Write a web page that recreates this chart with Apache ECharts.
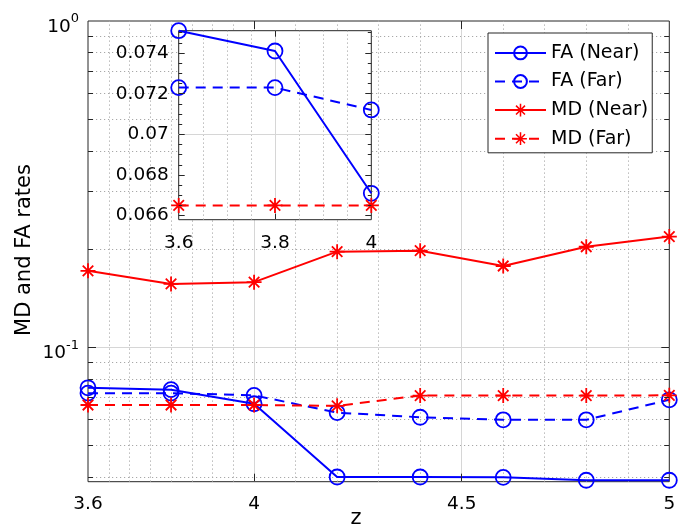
<!DOCTYPE html>
<html><head><meta charset="utf-8">
<script src="https://cdn.jsdelivr.net/npm/echarts@6/dist/echarts.min.js"></script>
<style>html,body{margin:0;padding:0;background:#fff}#c{width:686px;height:527px}</style>
</head><body><div id="c"></div>
<script>
// ---------- data ----------
const zValues = [3.6, 3.8, 4.0, 4.2, 4.4, 4.6, 4.8, 5.0];
const faNear  = [0.0751, 0.0741, 0.0671, 0.0400, 0.0400, 0.0399, 0.0391, 0.0391];
const faFar   = [0.0723, 0.0723, 0.0712, 0.0630, 0.0610, 0.0599, 0.0599, 0.0690];
const mdNear  = [0.1715, 0.1563, 0.1583, 0.1963, 0.1977, 0.1774, 0.2032, 0.2183];
const mdFar   = [0.0665, 0.0665, 0.0665, 0.0661, 0.0711, 0.0711, 0.0711, 0.0712];
const insetCount = 3;                       // z = 3.6, 3.8, 4 shown in the inset
const seriesNames = ['FA (Near)', 'FA (Far)', 'MD (Near)', 'MD (Far)'];
const xTickLabels = [3.6, 4, 4.5, 5];
const yDecadeLabels = [0.1, 1];
const insetXTicks = [3.6, 3.8, 4];
const insetYTicks = [0.066, 0.068, 0.07, 0.072, 0.074];
// grid positions
const mainMinorX = [3.65, 3.7, 3.75, 3.8, 3.85, 3.9, 3.95, 4.1, 4.2, 4.3, 4.4, 4.6, 4.7, 4.8, 4.9];
const mainMajorX = [4, 4.5];
const mainMinorY = [0.04, 0.05, 0.06, 0.07, 0.08, 0.09, 0.2, 0.3, 0.4, 0.5, 0.6, 0.7, 0.8, 0.9];
const mainMajorY = [0.1];
const insetMinorX = [3.65, 3.7, 3.75, 3.85, 3.9, 3.95];
const insetMajorX = [3.8];
const insetMinorY = [0.0665, 0.067, 0.0675, 0.0685, 0.069, 0.0695, 0.0705, 0.071, 0.0715, 0.0725, 0.073, 0.0735, 0.0745, 0.075];

// ---------- layout / style ----------
const FONT = 'DejaVu Sans';
const BLUE = '#0000ff', RED = '#ff0000', AX = '#262626';
const MAIN = {x0: 3.6, x1: 5, y0: 0.0387, y1: 1, left: 88, top: 21, right: 16.7, bottom: 45.3};
const INS  = {x0: 3.6, x1: 4, y0: 0.0658, y1: 0.0751, left: 178.7, top: 30.7, right: 314.7, bottom: 307.3};
const mainW = 686 - MAIN.left - MAIN.right, mainH = 527 - MAIN.top - MAIN.bottom;
const insW = 686 - INS.left - INS.right, insH = 527 - INS.top - INS.bottom;
const mainPxX = mainW / (MAIN.x1 - MAIN.x0);
const mainPxDec = mainH / (Math.log10(MAIN.y1) - Math.log10(MAIN.y0));
const insPxX = insW / (INS.x1 - INS.x0);
const insPxY = insH / (INS.y1 - INS.y0);

const dotted = {color: '#a8a8a8', width: 1, type: [1.2, 2.8]};
const solidGrid = {color: '#d6d6d6', width: 1, type: 'solid'};
const tickStyle = {color: AX, width: 1, type: 'solid'};

const STAR = 'path://M8.8 0L11.2 0L11.2 20L8.8 20Z M0 8.8L20 8.8L20 11.2L0 11.2Z M3.85 2.15L17.85 16.15L16.15 17.85L2.15 3.85Z M16.15 2.15L17.85 3.85L3.85 17.85L2.15 16.15Z';

function seg(a, b, style) { return [{coord: a, lineStyle: style}, {coord: b}]; }
function near(list, v, tol) { return list.some(t => Math.abs(t - v) < tol); }

// main grid lines
const mainGridLines = [];
mainMinorX.forEach(v => mainGridLines.push({xAxis: v, lineStyle: dotted}));
mainMinorY.forEach(v => mainGridLines.push({yAxis: v, lineStyle: dotted}));
mainMajorX.forEach(v => mainGridLines.push({xAxis: v, lineStyle: solidGrid}));
mainMajorY.forEach(v => mainGridLines.push({yAxis: v, lineStyle: solidGrid}));
// main ticks
const mainTicks = [];
function yTicksMain(vals, len) {
  const dx = len / mainPxX;
  vals.forEach(v => {
    mainTicks.push(seg([MAIN.x0, v], [MAIN.x0 + dx, v], tickStyle));
    mainTicks.push(seg([MAIN.x1 - dx, v], [MAIN.x1, v], tickStyle));
  });
}
yTicksMain(mainMajorY, 8);
yTicksMain(mainMinorY, 5);
mainMajorX.forEach(v => {
  const f = Math.pow(10, 8 / mainPxDec);
  mainTicks.push(seg([v, MAIN.y0], [v, MAIN.y0 * f], tickStyle));
  mainTicks.push(seg([v, MAIN.y1 / f], [v, MAIN.y1], tickStyle));
});

// inset grid lines
const insGridLines = [];
insetMinorX.forEach(v => insGridLines.push({xAxis: v, lineStyle: dotted}));
insetMinorY.forEach(v => insGridLines.push({yAxis: v, lineStyle: dotted}));
insetMajorX.forEach(v => insGridLines.push({xAxis: v, lineStyle: solidGrid}));
insetYTicks.forEach(v => insGridLines.push({yAxis: v, lineStyle: solidGrid}));
const insTicks = [];
function yTicksIns(vals, len) {
  const dx = len / insPxX;
  vals.forEach(v => {
    insTicks.push(seg([INS.x0, v], [INS.x0 + dx, v], tickStyle));
    insTicks.push(seg([INS.x1 - dx, v], [INS.x1, v], tickStyle));
  });
}
yTicksIns(insetYTicks, 6);
yTicksIns(insetMinorY, 3.5);
insetMajorX.forEach(v => {
  const dy = 6 / insPxY;
  insTicks.push(seg([v, INS.y0], [v, INS.y0 + dy], tickStyle));
  insTicks.push(seg([v, INS.y1 - dy], [v, INS.y1], tickStyle));
});

function lineSeries(name, vals, color, dashed, symbol, gi, z, count) {
  const n = count || vals.length;
  const circle = symbol === 'circle';
  return {
    name: name, type: 'line', xAxisIndex: gi, yAxisIndex: gi, z: z,
    data: zValues.slice(0, n).map((x, i) => [x, vals[i]]),
    symbol: circle ? 'circle' : STAR,
    symbolSize: 15,
    showAllSymbol: true,
    lineStyle: {color: color, width: 2, type: dashed ? [10, 7] : 'solid'},
    itemStyle: circle ? {color: 'rgba(0,0,0,0)', borderColor: color, borderWidth: 1.8}
                      : {color: color, borderWidth: 0},
    emphasis: {disabled: true}, silent: true, clip: false
  };
}

function helper(gi, z, lines, ticks) {
  return [
    {type: 'line', name: 'grid' + gi, xAxisIndex: gi, yAxisIndex: gi, data: [], z: z, silent: true,
     markLine: {silent: true, z: z, symbol: ['none', 'none'], label: {show: false}, animation: false, data: lines}},
    {type: 'line', name: 'ticks' + gi, xAxisIndex: gi, yAxisIndex: gi, data: [], z: z + 5, silent: true,
     markLine: {silent: true, z: z + 5, symbol: ['none', 'none'], label: {show: false}, animation: false, data: ticks}}
  ];
}

const labelStyle = {fontFamily: FONT, fontSize: 18.5, color: '#000'};

const option = {
  animation: false,
  backgroundColor: '#fff',
  textStyle: {fontFamily: FONT},
  grid: [
    {left: MAIN.left, top: MAIN.top, width: mainW, height: mainH, show: true, borderColor: AX, borderWidth: 1, backgroundColor: 'rgba(0,0,0,0)', z: 0},
    {left: INS.left, top: INS.top, width: insW, height: insH, show: true, borderColor: AX, borderWidth: 1, backgroundColor: '#fff', z: 3}
  ],
  xAxis: [
    {gridIndex: 0, type: 'value', min: MAIN.x0, max: MAIN.x1, interval: 0.1,
     axisLine: {show: false}, axisTick: {show: false}, splitLine: {show: false},
     axisLabel: Object.assign({margin: 13, showMinLabel: true, showMaxLabel: true,
       formatter: v => near(xTickLabels, v, 1e-6) ? String(parseFloat(v.toFixed(2))) : ''}, labelStyle)},
    {gridIndex: 1, type: 'value', min: INS.x0, max: INS.x1, interval: 0.2, z: 3,
     axisLine: {show: false}, axisTick: {show: false}, splitLine: {show: false},
     axisLabel: Object.assign({margin: 14, showMinLabel: true, showMaxLabel: true,
       formatter: v => near(insetXTicks, v, 1e-6) ? String(parseFloat(v.toFixed(2))) : ''}, labelStyle)}
  ],
  yAxis: [
    {gridIndex: 0, type: 'log', logBase: 10, min: MAIN.y0, max: MAIN.y1,
     axisLine: {show: false}, axisTick: {show: false}, splitLine: {show: false},
     axisLabel: Object.assign({margin: 9, padding: [12, 0, 0, 0], showMinLabel: false,
       formatter: v => near(yDecadeLabels, v, 1e-9) ? '10{sup|' + Math.round(Math.log10(v)) + '}' : '',
       rich: {sup: {fontFamily: FONT, fontSize: 13, color: '#000', padding: [0, 0, 16, 0]}}}, labelStyle)},
    {gridIndex: 1, type: 'value', min: INS.y0, max: INS.y1, interval: 0.0002, z: 3,
     axisLine: {show: false}, axisTick: {show: false}, splitLine: {show: false},
     axisLabel: Object.assign({margin: 10, showMinLabel: true, showMaxLabel: true,
       formatter: v => near(insetYTicks, v, 1e-7) ? String(Math.round(v * 1000) / 1000) : ''}, labelStyle)}
  ],
  legend: {
    data: seriesNames, orient: 'vertical', left: 488, top: 33,
    backgroundColor: '#fff', borderColor: AX, borderWidth: 1,
    padding: [10.4, 4, 4.6, 6], itemWidth: 51, itemHeight: 16, itemGap: 9.6,
    textStyle: {fontFamily: FONT, fontSize: 19, color: '#000', lineHeight: 16},
    selectedMode: false, z: 6
  },
  graphic: [
    {type: 'text', x: 25, y: 250, rotation: Math.PI / 2,
     style: {text: 'MD and FA rates', fontFamily: FONT, fontSize: 21, fill: '#000', align: 'center', verticalAlign: 'middle'}},
    {type: 'text', x: 356, y: 519,
     style: {text: 'z', fontFamily: FONT, fontSize: 21, fill: '#000', align: 'center', verticalAlign: 'middle'}}
  ],
  series: [].concat(
    helper(0, 1, mainGridLines, mainTicks),
    [
      lineSeries(seriesNames[0], faNear, BLUE, false, 'circle', 0, 2),
      lineSeries(seriesNames[1], faFar, BLUE, true, 'circle', 0, 2),
      lineSeries(seriesNames[2], mdNear, RED, false, 'star', 0, 2),
      lineSeries(seriesNames[3], mdFar, RED, true, 'star', 0, 2)
    ],
    helper(1, 4, insGridLines, insTicks),
    [
      lineSeries('inset ' + seriesNames[0], faNear, BLUE, false, 'circle', 1, 5, insetCount),
      lineSeries('inset ' + seriesNames[1], faFar, BLUE, true, 'circle', 1, 5, insetCount),
      lineSeries('inset ' + seriesNames[3], mdFar, RED, true, 'star', 1, 5, insetCount)
    ]
  )
};

const chart = echarts.init(document.getElementById('c'), null, {renderer: 'canvas'});
chart.setOption(option);
</script>
</body></html>
